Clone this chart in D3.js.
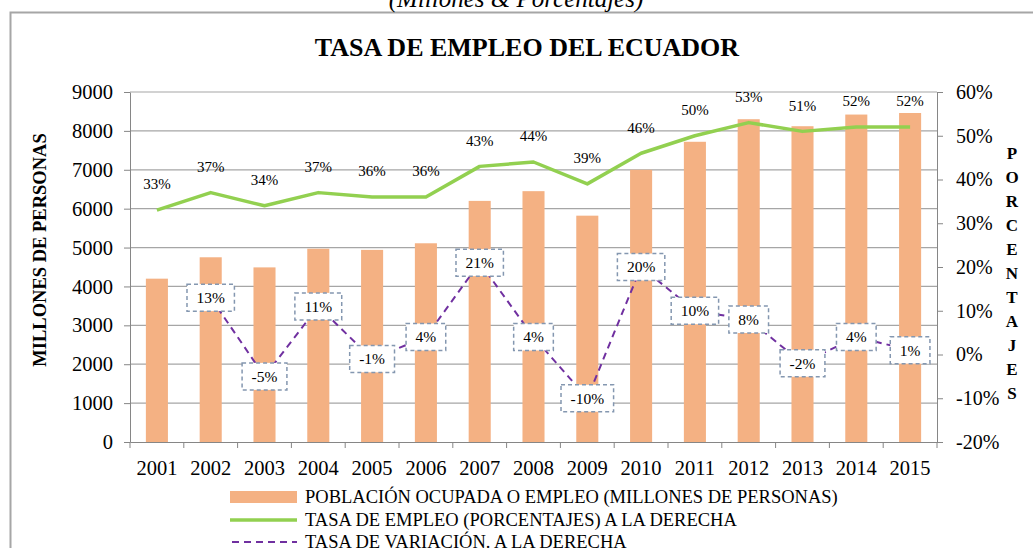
<!DOCTYPE html>
<html>
<head>
<meta charset="utf-8">
<script src="https://cdn.jsdelivr.net/npm/d3@7"></script>
<style>
  body { margin: 0; background: #fff; }
  svg text { font-family: "Liberation Serif", "Times New Roman", serif; fill: #000; }
  .axis path, .axis line { stroke: #868686; }
</style>
</head>
<body>
<svg id="chart" width="1033" height="548"></svg>
<script>
// data
var years = ["2001","2002","2003","2004","2005","2006","2007","2008","2009","2010","2011","2012","2013","2014","2015"];
var employed = [4200, 4750, 4490, 4970, 4940, 5110, 6200, 6450, 5820, 7000, 7720, 8300, 8120, 8420, 8460];
var employmentRate = [33, 37, 34, 37, 36, 36, 43, 44, 39, 46, 50, 53, 51, 52, 52];
var variationRate = [null, 13, -5, 11, -1, 4, 21, 4, -10, 20, 10, 8, -2, 4, 1];
var leftTicks = [0, 1000, 2000, 3000, 4000, 5000, 6000, 7000, 8000, 9000];
var rightTicks = [-20, -10, 0, 10, 20, 30, 40, 50, 60];
var legendLabels = [
  "POBLACIÓN OCUPADA O EMPLEO (MILLONES DE PERSONAS)",
  "TASA DE EMPLEO (PORCENTAJES) A LA DERECHA",
  "TASA DE VARIACIÓN. A LA DERECHA"
];

var barColor = "#F4B183",
    lineColor = "#92D050",
    dashColor = "#7030A0",
    gridColor = "#A6A6A6";

var svg = d3.select("#chart");
var plot = {left: 130, right: 937, top: 92, bottom: 442};

// scales
var x = d3.scaleBand().domain(years).range([plot.left, plot.right])
  .paddingInner(0.59).paddingOuter(0.295);
var step = x.step();
var cx = function(d) { return x(d) + x.bandwidth() / 2; };
var yLeft = d3.scaleLinear().domain([0, 9000]).range([plot.bottom, plot.top]);
var yRight = d3.scaleLinear().domain([-20, 60]).range([plot.bottom, plot.top]);

// outer frame and subtitle
svg.append("rect")
  .attr("x", 10.5).attr("y", 12.5)
  .attr("width", 1040).attr("height", 560)
  .attr("fill", "none").attr("stroke", gridColor).attr("stroke-width", 2);

svg.append("text")
  .text("(Millones & Porcentajes)")
  .attr("x", 516).attr("y", 7)
  .attr("text-anchor", "middle")
  .style("font-style", "italic").style("font-size", "25px");

svg.append("text")
  .text("TASA DE EMPLEO DEL ECUADOR")
  .attr("x", 527).attr("y", 56)
  .attr("text-anchor", "middle")
  .style("font-weight", "bold").style("font-size", "26px");

// gridlines
svg.append("g").selectAll("line")
  .data(leftTicks.slice(1))
  .join("line")
  .attr("x1", plot.left).attr("x2", plot.right)
  .attr("y1", function(d) { return yLeft(d); })
  .attr("y2", function(d) { return yLeft(d); })
  .attr("stroke", gridColor).attr("stroke-width", 1.2);

// bars
svg.append("g").selectAll("rect")
  .data(employed)
  .join("rect")
  .attr("x", function(d, i) { return x(years[i]); })
  .attr("width", x.bandwidth())
  .attr("y", function(d) { return yLeft(d); })
  .attr("height", function(d) { return yLeft(0) - yLeft(d); })
  .attr("fill", barColor);

// axes
var leftAxis = svg.append("g")
  .attr("class", "axis")
  .attr("transform", "translate(" + plot.left + ",0)")
  .call(d3.axisLeft(yLeft).tickValues(leftTicks).tickFormat(d3.format("d"))
    .tickSize(6).tickPadding(11).tickSizeOuter(0));
leftAxis.selectAll("text").style("font-size", "20.5px");

var rightAxis = svg.append("g")
  .attr("class", "axis")
  .attr("transform", "translate(" + plot.right + ",0)")
  .call(d3.axisRight(yRight).tickValues(rightTicks).tickFormat(function(d) { return d + "%"; })
    .tickSize(6).tickPadding(13).tickSizeOuter(0));
rightAxis.selectAll("text").style("font-size", "20px");

var bottomAxis = svg.append("g")
  .attr("class", "axis")
  .attr("transform", "translate(0," + plot.bottom + ")")
  .call(d3.axisBottom(x).tickSize(0).tickPadding(18).tickSizeOuter(0));
bottomAxis.selectAll("text").style("font-size", "20.5px");
bottomAxis.selectAll(".boundary")
  .data(d3.range(years.length + 1))
  .join("line")
  .attr("class", "boundary")
  .attr("x1", function(i) { return plot.left + i * step; })
  .attr("x2", function(i) { return plot.left + i * step; })
  .attr("y1", 0).attr("y2", 6);

// axis titles
svg.append("text")
  .text("MILLONES DE PERSONAS")
  .attr("transform", "translate(46,250)rotate(-90)")
  .attr("text-anchor", "middle")
  .style("font-weight", "bold").style("font-size", "18.5px");

svg.append("g").selectAll("text")
  .data("PORCENTAJES".split(""))
  .join("text")
  .text(function(d) { return d; })
  .attr("x", 1012)
  .attr("y", function(d, i) { return 159 + i * 24; })
  .attr("text-anchor", "middle")
  .style("font-weight", "bold").style("font-size", "17px");

// employment rate line
var rateLine = d3.line()
  .x(function(d, i) { return cx(years[i]); })
  .y(function(d) { return yRight(d); });

svg.append("path")
  .datum(employmentRate)
  .attr("d", rateLine)
  .attr("fill", "none")
  .attr("stroke", lineColor)
  .attr("stroke-width", 3.5)
  .attr("stroke-linejoin", "round");

svg.append("g").selectAll("text")
  .data(employmentRate)
  .join("text")
  .text(function(d) { return d + "%"; })
  .attr("x", function(d, i) { return cx(years[i]); })
  .attr("y", function(d) { return yRight(d) - 26; })
  .attr("dy", "0.35em")
  .attr("text-anchor", "middle")
  .style("font-size", "15px");

// variation line (dashed)
var varLine = d3.line()
  .defined(function(d) { return d !== null; })
  .x(function(d, i) { return cx(years[i]); })
  .y(function(d) { return yRight(d); });

svg.append("path")
  .datum(variationRate)
  .attr("d", varLine)
  .attr("fill", "none")
  .attr("stroke", dashColor)
  .attr("stroke-width", 2)
  .attr("stroke-dasharray", "7,5");

var boxes = svg.append("g").selectAll("g")
  .data(variationRate.map(function(d, i) { return {v: d, year: years[i]}; })
    .filter(function(d) { return d.v !== null; }))
  .join("g")
  .attr("transform", function(d) { return "translate(" + cx(d.year) + "," + yRight(d.v) + ")"; });

boxes.append("rect");
boxes.append("text")
  .text(function(d) { return d.v + "%"; })
  .attr("text-anchor", "middle")
  .attr("dy", "0.35em")
  .style("font-size", "15.5px");

boxes.each(function() {
  var g = d3.select(this);
  var w = g.select("text").node().getComputedTextLength() + 19;
  g.select("rect")
    .attr("x", -w / 2).attr("y", -13.5)
    .attr("width", w).attr("height", 27)
    .attr("fill", "#fff")
    .attr("stroke", "#8497B0")
    .attr("stroke-width", 1.5)
    .attr("stroke-dasharray", "4,3");
});

// legend
var legend = svg.append("g").attr("transform", "translate(230,0)");
var rows = [497, 520, 542];

legend.append("rect")
  .attr("x", 0).attr("y", rows[0] - 6)
  .attr("width", 67).attr("height", 12)
  .attr("fill", barColor);
legend.append("line")
  .attr("x1", 0).attr("x2", 67)
  .attr("y1", rows[1]).attr("y2", rows[1])
  .attr("stroke", lineColor).attr("stroke-width", 3.5);
legend.append("line")
  .attr("x1", 2).attr("x2", 67)
  .attr("y1", rows[2]).attr("y2", rows[2])
  .attr("stroke", dashColor).attr("stroke-width", 2)
  .attr("stroke-dasharray", "7,5");

legend.selectAll("text.leg")
  .data(legendLabels)
  .join("text")
  .attr("class", "leg")
  .text(function(d) { return d; })
  .attr("x", 75)
  .attr("y", function(d, i) { return rows[i]; })
  .attr("dy", "0.35em")
  .style("font-size", "18.5px");
</script>
</body>
</html>
